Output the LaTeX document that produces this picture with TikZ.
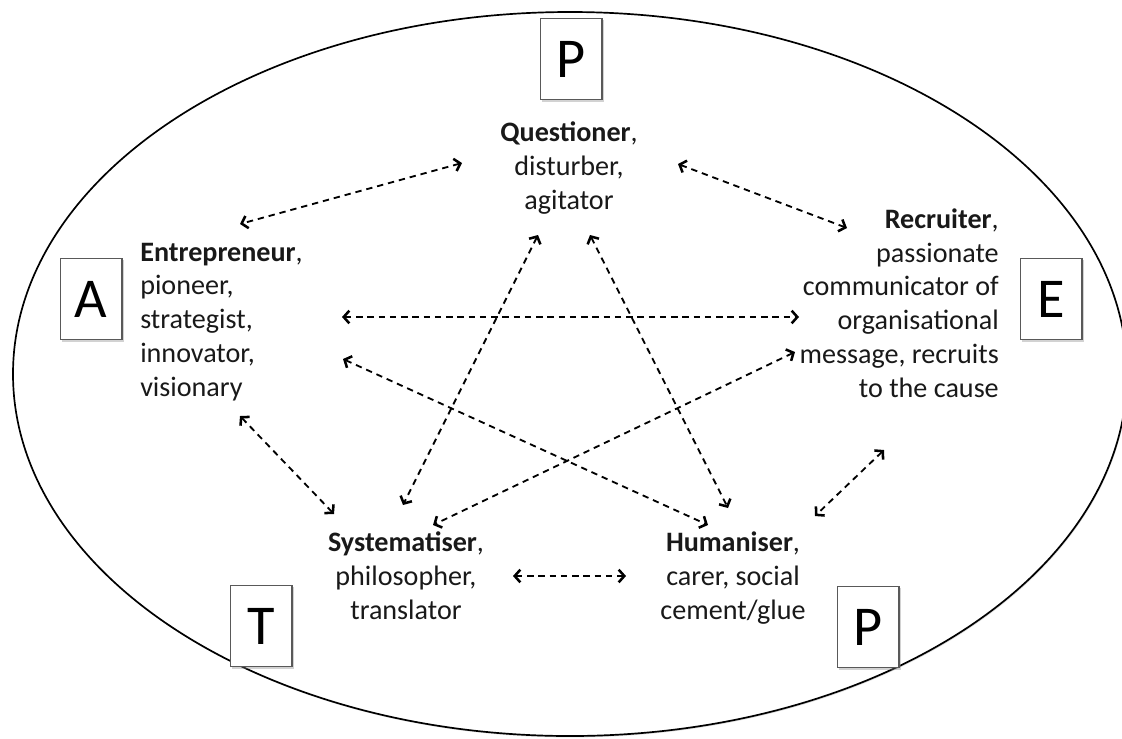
\documentclass[tikz,border=0pt]{standalone}
\usepackage{fontspec}
\setmainfont{Carlito}
\usetikzlibrary{arrows.meta,shadows}

\tikzset{
  role/.style={inner sep=0pt, text=black!90, font=\fontsize{20}{24}\selectfont},
  letterbox/.style={draw=black!65, line width=0.8pt, fill=white, minimum width=44pt,
    minimum height=58pt, inner sep=0pt, font=\fontsize{40}{48}\selectfont,
    drop shadow={shadow xshift=1.5pt, shadow yshift=-1.5pt, opacity=0.35}},
  link/.style={dash pattern=on 4.5pt off 3.5pt, line width=1.3pt,
    {Straight Barb[length=4pt,width=9pt,line width=1.8pt]}-{Straight Barb[length=4pt,width=9pt,line width=1.8pt]}}
}

\begin{document}
\begin{tikzpicture}[x=0.025cm, y=-0.025cm]
\useasboundingbox (0,0) rectangle (1122,738);

% outer ellipse
\draw [line width=1.2pt, fill=white, drop shadow={shadow xshift=0.6pt, shadow yshift=-1pt, opacity=0.3}]
  (570,374) ellipse [x radius=557, y radius=362];

% letter boxes
\node[letterbox] (ptop) at (571,59) {P};
\node[letterbox] (a) at (91,299) {A};
\node[letterbox] (e) at (1051,299) {E};
\node[letterbox] (t) at (261,626) {T};
\node[letterbox] (pbot) at (868,627) {P};

% roles (base = last line)
\node[role, align=center, anchor=base] (que) at (569,209)
  {\textbf{Questioner},\\ disturber,\\ agitator};
\node[role, align=left, anchor=base west] (ent) at (140,396)
  {\textbf{Entrepreneur},\\ pioneer,\\ strategist,\\ innovator,\\ visionary};
\node[role, align=right, anchor=base east] (rec) at (999,397)
  {\textbf{Recruiter},\\ passionate\\ communicator of\\ organisational\\ message, recruits\\ to the cause};
\node[role, align=center, anchor=base] (sys) at (406,619)
  {\textbf{Systematiser},\\ philosopher,\\ translator};
\node[role, align=center, anchor=base] (hum) at (733,619)
  {\textbf{Humaniser},\\ carer, social\\ cement/glue};

% links
\draw [link] ([shift={(-107,-46)}]que.base) -- ([shift={(100,-172)}]ent.base west);
\draw [link] ([shift={(109,-45)}]que.base) -- ([shift={(-152,-169)}]rec.base east);
\draw [link] ([shift={(202,-79)}]ent.base west) -- ([shift={(-200,-80)}]rec.base east);
\draw [link] ([shift={(100,20)}]ent.base west) -- ([shift={(-72,-105)}]sys.base);
\draw [link] ([shift={(203,-37)}]ent.base west) -- ([shift={(-25,-94)}]hum.base);
\draw [link] ([shift={(-31,26)}]que.base) -- ([shift={(-3,-114)}]sys.base);
\draw [link] ([shift={(21,26)}]que.base) -- ([shift={(-5,-111)}]hum.base);
\draw [link] ([shift={(-204,-45)}]rec.base east) -- ([shift={(27,-94)}]sys.base);
\draw [link] ([shift={(-115,53)}]rec.base east) -- ([shift={(82,-103)}]hum.base);
\draw [link] ([shift={(107,-43)}]sys.base) -- ([shift={(-107,-43)}]hum.base);
\end{tikzpicture}
\end{document}
